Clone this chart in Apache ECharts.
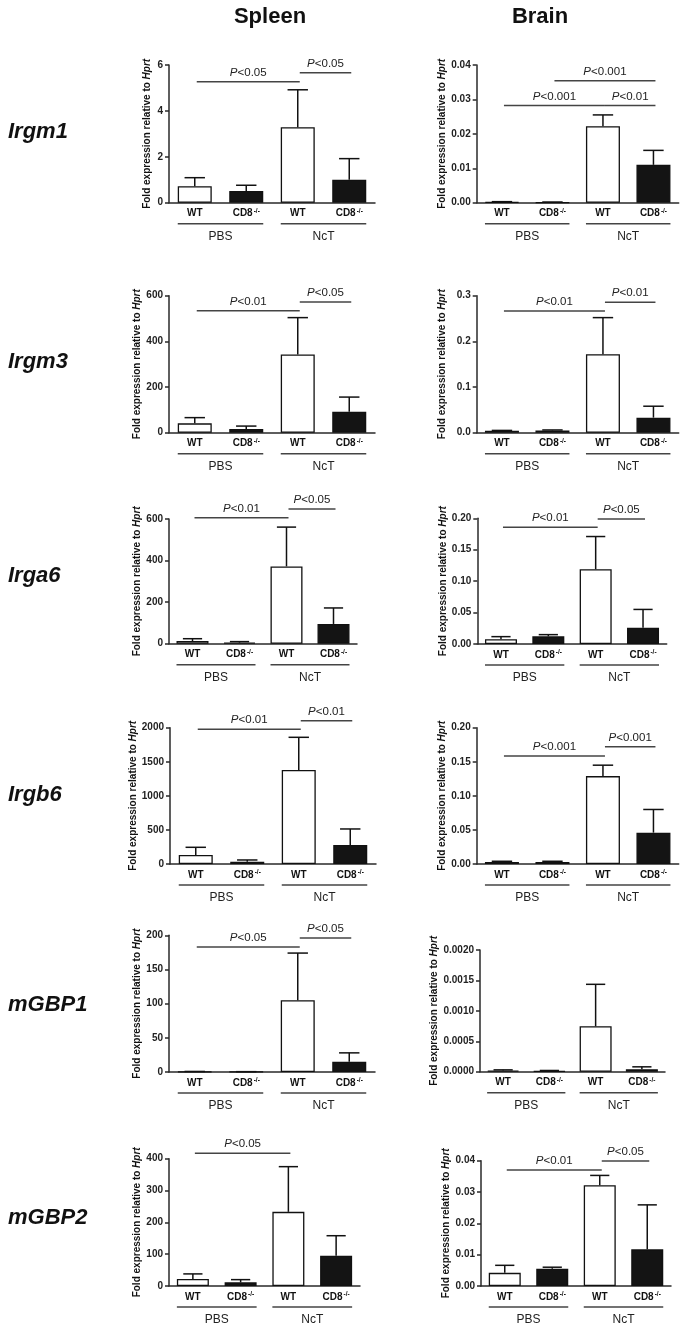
<!DOCTYPE html>
<html><head><meta charset="utf-8">
<script src="https://cdn.jsdelivr.net/npm/echarts@6/dist/echarts.min.js"></script>
<style>html,body{margin:0;padding:0;background:#fff}#c{width:685px;height:1323px}</style>
</head><body><div id="c"></div>
<script>
// ---------------- DATA ----------------
const genes = ['Irgm1', 'Irgm3', 'Irga6', 'Irgb6', 'mGBP1', 'mGBP2'];
const tissues = ['Spleen', 'Brain'];
const categories = ['WT', 'CD8-/-', 'WT', 'CD8-/-'];
const groups = ['PBS', 'NcT'];
const yTitle = 'Fold expression relative to ';
const yTitleGene = 'Hprt';

// order: PBS WT, PBS CD8-/-, NcT WT, NcT CD8-/-
const spleenMean = [
  [0.72, 0.51, 3.29, 1.0],
  [41, 16, 343, 92],
  [13, 5, 372, 95],
  [132, 34, 1379, 280],
  [0.5, 0.3, 105, 15],
  [22, 11.5, 233, 95]
];
const spleenSem = [
  [0.37, 0.25, 1.63, 0.92],
  [25, 13, 161, 64],
  [11, 5, 189, 77],
  [113, 25, 480, 234],
  [0.3, 0.2, 69, 13],
  [16, 8.5, 142, 63]
];
const brainMean = [
  [0.0002, 0.0001, 0.0222, 0.0110],
  [0.004, 0.005, 0.172, 0.033],
  [0.0075, 0.0122, 0.119, 0.026],
  [0.003, 0.003, 0.129, 0.046],
  [0.00002, 0.00001, 0.000746, 0.00004],
  [0.0042, 0.0055, 0.0322, 0.0117]
];
const brainSem = [
  [0.0001, 0.0001, 0.0033, 0.0042],
  [0.001, 0.001, 0.080, 0.025],
  [0.0042, 0.0027, 0.052, 0.029],
  [0.001, 0.001, 0.016, 0.034],
  [0.00001, 0.00001, 0.00069, 0.00004],
  [0.0024, 0.0005, 0.0031, 0.0142]
];

const spleenMax = [6, 600, 600, 2000, 200, 400];
const spleenStep = [2, 200, 200, 500, 50, 100];
const spleenDec = [0, 0, 0, 0, 0, 0];
const brainMax = [0.04, 0.3, 0.2, 0.2, 0.002, 0.04];
const brainStep = [0.01, 0.1, 0.05, 0.05, 0.0005, 0.01];
const brainDec = [2, 1, 2, 2, 4, 2];

// significance brackets: [fromCategory, toCategory, yValue, label]
const spleenSig = [
  [[0, 2, 5.27, 'P<0.05'], [2, 3, 5.66, 'P<0.05']],
  [[0, 2, 534, 'P<0.01'], [2, 3, 572, 'P<0.05']],
  [[0, 2, 606, 'P<0.01'], [2, 3, 648, 'P<0.05']],
  [[0, 2, 1977, 'P<0.01'], [2, 3, 2103, 'P<0.01']],
  [[0, 2, 183, 'P<0.05'], [2, 3, 196, 'P<0.05']],
  [[0, 2, 417, 'P<0.05']]
];
const brainSig = [
  [[0, 2, 0.0282, 'P<0.001'], [2, 3, 0.0282, 'P<0.01'], [1, 3, 0.0354, 'P<0.001']],
  [[0, 2, 0.2665, 'P<0.01'], [2, 3, 0.2856, 'P<0.01']],
  [[0, 2, 0.1857, 'P<0.01'], [2, 3, 0.1989, 'P<0.05']],
  [[0, 2, 0.1585, 'P<0.001'], [2, 3, 0.1721, 'P<0.001']],
  [],
  [[0, 2, 0.0370, 'P<0.01'], [2, 3, 0.0399, 'P<0.05']]
];

// ---------------- LAYOUT ----------------
// [left, top, width, height, barWidth, nameGap]
const layout = [
  [[169, 65, 206, 137.7, 34, 17], [476.7, 65, 202, 137.7, 34, 29]],
  [[169, 295.7, 206, 137, 34, 21], [476.7, 295.7, 202, 137, 34, 29]],
  [[169, 519, 188, 124.7, 32, 22], [477.3, 518.3, 189.4, 125.7, 32, 29]],
  [[170, 727.7, 206, 136.3, 34, 31], [476.7, 727.7, 202, 136.3, 34, 29]],
  [[169, 935.3, 206, 136.7, 34, 22], [480, 950, 185, 121.7, 32, 33]],
  [[169, 1158.7, 191, 127.3, 32, 22], [481, 1160.7, 190, 125.3, 32, 29]]
];
const geneY = [132, 362, 576, 795, 1005, 1218];
const FONT = '"Liberation Sans", Arial, Helvetica, sans-serif';
const AX = '#2a2a2a';

const chart = echarts.init(document.getElementById('c'), null, {renderer: 'canvas'});
const grid = [], xAxis = [], yAxis = [], series = [];

function catLabel(v, i) {
  const c = categories[i];
  if (c === 'WT') return '{b|WT}';
  return '{b|CD8}{s|-/-}';
}

let idx = 0;
for (let r = 0; r < genes.length; r++) {
  for (let c = 0; c < 2; c++) {
    const L = layout[r][c];
    const means = c === 0 ? spleenMean[r] : brainMean[r];
    const sems = c === 0 ? spleenSem[r] : brainSem[r];
    const max = c === 0 ? spleenMax[r] : brainMax[r];
    const step = c === 0 ? spleenStep[r] : brainStep[r];
    const dec = c === 0 ? spleenDec[r] : brainDec[r];
    const sig = c === 0 ? spleenSig[r] : brainSig[r];
    const bw = L[4];
    grid.push({left: L[0], top: L[1], width: L[2], height: L[3]});
    xAxis.push({
      type: 'category', gridIndex: idx,
      data: categories.map((d, i) => String(i)),
      axisTick: {show: false},
      axisLine: {lineStyle: {color: AX, width: 1.5}},
      axisLabel: {
        interval: 0, margin: 5, formatter: catLabel, fontFamily: FONT,
        rich: {
          b: {fontSize: 10, fontWeight: 'bold', color: '#111', fontFamily: FONT, lineHeight: 12},
          s: {fontSize: 6.5, fontWeight: 'bold', color: '#111', fontFamily: FONT, verticalAlign: 'top', lineHeight: 12, padding: [0, 0, 5, 1]}
        }
      }
    });
    yAxis.push({
      type: 'value', gridIndex: idx, min: 0, max: max, interval: step,
      splitLine: {show: false},
      axisLine: {show: true, lineStyle: {color: AX, width: 1.5}},
      axisTick: {show: true, length: 4, lineStyle: {color: AX, width: 1.5}},
      axisLabel: {
        margin: 6, fontSize: 10, fontWeight: 'bold', color: '#222', fontFamily: FONT,
        formatter: v => v.toFixed(dec)
      },
      name: '{n|' + yTitle + '}{i|' + yTitleGene + '}',
      nameLocation: 'middle', nameGap: L[5],
      nameTextStyle: {
        rich: {
          n: {fontSize: 10, fontWeight: 'bold', color: '#111', fontFamily: FONT},
          i: {fontSize: 10, fontWeight: 'bold', fontStyle: 'italic', color: '#111', fontFamily: FONT}
        }
      }
    });
    // bars
    series.push({
      type: 'bar', xAxisIndex: idx, yAxisIndex: idx, barWidth: bw, silent: true,
      data: means.map((v, i) => ({value: v, itemStyle: {color: i % 2 ? '#141414' : '#ffffff'}})),
      itemStyle: {borderColor: '#111', borderWidth: 1.3},
      z: 2
    });
    // error bars
    const cap = bw * 0.3;
    series.push({
      type: 'custom', xAxisIndex: idx, yAxisIndex: idx, silent: true, clip: false, z: 3,
      data: means.map((m, i) => [i, m, m + sems[i]]),
      renderItem: function (params, api) {
        const p0 = api.coord([api.value(0), api.value(1)]);
        const p1 = api.coord([api.value(0), api.value(2)]);
        const st = {stroke: '#111', lineWidth: 1.5};
        return {type: 'group', children: [
          {type: 'line', shape: {x1: p0[0], y1: p0[1], x2: p1[0], y2: p1[1]}, style: st},
          {type: 'line', shape: {x1: p1[0] - cap, y1: p1[1], x2: p1[0] + cap, y2: p1[1]}, style: st}
        ]};
      }
    });
    // significance brackets
    if (sig.length) {
      series.push({
        type: 'custom', xAxisIndex: idx, yAxisIndex: idx, silent: true, clip: false, z: 3,
        data: sig.map(s => [s[0], s[1], s[2]]),
        renderItem: (function (sigList) {
          return function (params, api) {
            const s = sigList[params.dataIndex];
            const a = api.coord([api.value(0), api.value(2)]);
            const b = api.coord([api.value(1), api.value(2)]);
            const lab = s[3];
            return {type: 'group', children: [
              {type: 'line', shape: {x1: a[0] + 2, y1: a[1], x2: b[0] + 2, y2: b[1]}, style: {stroke: '#444', lineWidth: 1.5}},
              {type: 'text', x: (a[0] + b[0]) / 2 + 2, y: a[1] - 9, style: {
                text: '{i|P}{n|' + lab.slice(1) + '}', align: 'center', verticalAlign: 'middle',
                rich: {
                  i: {fontSize: 11.5, fontStyle: 'italic', fill: '#222', fontFamily: FONT},
                  n: {fontSize: 11.5, fill: '#222', fontFamily: FONT}
                }
              }}
            ]};
          };
        })(sig)
      });
    }
    // group brackets (PBS / NcT)
    series.push({
      type: 'custom', xAxisIndex: idx, yAxisIndex: idx, silent: true, clip: false, z: 3,
      data: [[0, 0]],
      renderItem: (function (bwid) {
        return function (params, api) {
          const children = [];
          for (let g = 0; g < groups.length; g++) {
            const pa = api.coord([2 * g, 0]);
            const pb = api.coord([2 * g + 1, 0]);
            const xs = pa[0] - bwid / 2, xe = pb[0] + bwid / 2;
            const y0 = pa[1];
            children.push({type: 'line', shape: {x1: xs, y1: y0 + 21, x2: xe, y2: y0 + 21}, style: {stroke: '#444', lineWidth: 1.5}});
            children.push({type: 'text', x: (xs + xe) / 2, y: y0 + 34, style: {
              text: groups[g], align: 'center', verticalAlign: 'middle',
              fontSize: 12, fill: '#222', fontFamily: FONT
            }});
          }
          return {type: 'group', children: children};
        };
      })(bw)
    });
    idx++;
  }
}

const graphic = [];
graphic.push({type: 'text', x: 270, y: 17, style: {text: tissues[0], align: 'center', verticalAlign: 'middle', font: 'bold 22px ' + FONT, fill: '#111'}});
graphic.push({type: 'text', x: 540, y: 17, style: {text: tissues[1], align: 'center', verticalAlign: 'middle', font: 'bold 22px ' + FONT, fill: '#111'}});
genes.forEach((g, i) => {
  graphic.push({type: 'text', x: 8, y: geneY[i], style: {text: g, align: 'left', verticalAlign: 'middle', font: 'italic bold 22px ' + FONT, fill: '#111'}});
});

chart.setOption({
  animation: false,
  backgroundColor: '#fff',
  grid: grid, xAxis: xAxis, yAxis: yAxis, series: series, graphic: graphic
});
</script>
</body></html>
